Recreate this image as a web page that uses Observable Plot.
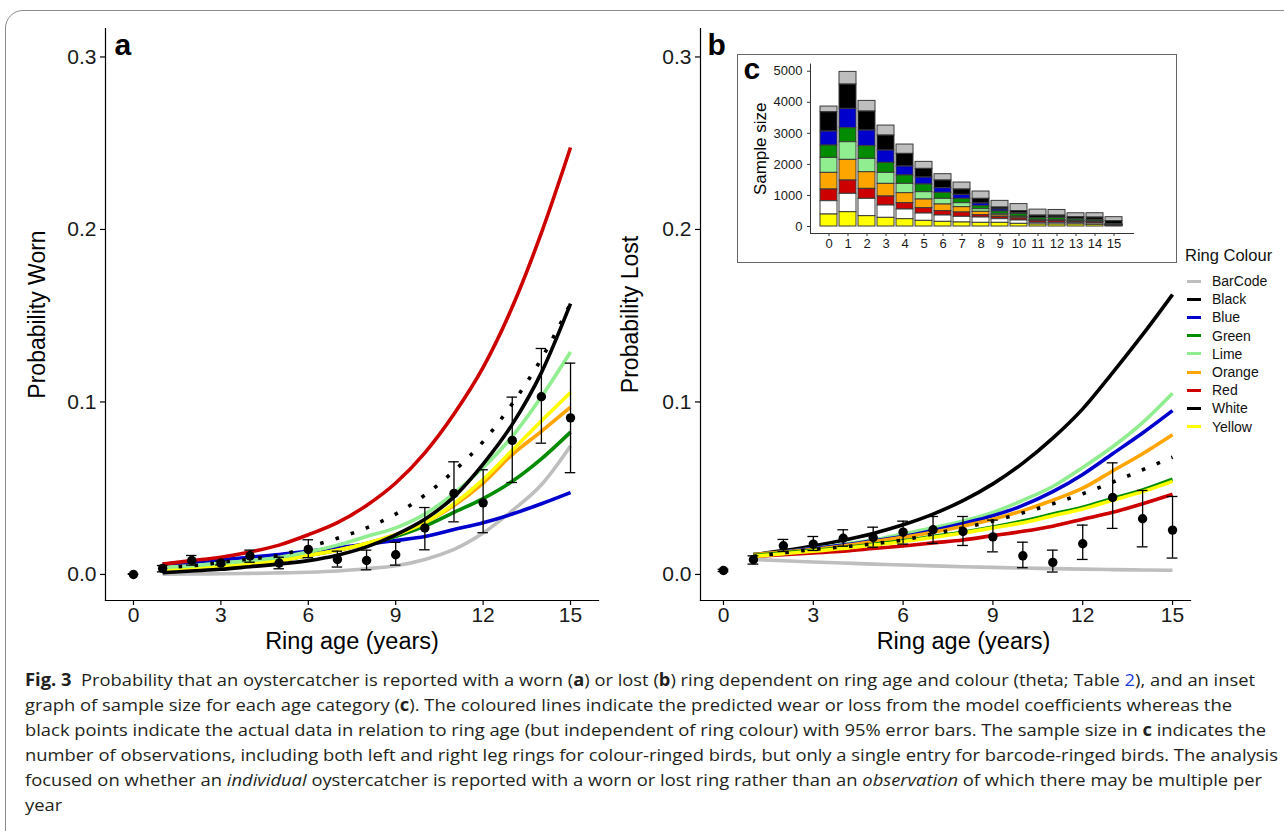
<!DOCTYPE html>
<html><head><meta charset="utf-8">
<script src="https://cdn.jsdelivr.net/npm/d3@7"></script>
<script src="https://cdn.jsdelivr.net/npm/@observablehq/plot@0.6"></script>
<style>
html,body{margin:0;padding:0;background:#fff;}
body{width:1284px;height:831px;position:relative;overflow:hidden;font-family:"Liberation Sans",Arial,sans-serif;}
#card{position:absolute;left:5px;top:10px;width:1400px;height:838px;border:1.5px solid #8a8a8a;border-radius:18px;box-sizing:border-box;}
.panel{position:absolute;}
#pa{left:0;top:0;width:620px;height:660px;}
#pb{left:600px;top:0;width:600px;height:660px;}
#pc{left:738px;top:55px;width:438px;height:207px;}
#pc svg{outline:1px solid #666;}
#legend{position:absolute;left:1185px;top:245px;font-family:"Liberation Sans",Arial,sans-serif;color:#111;}
#legend .title{font-size:16.5px;line-height:20px;height:20px;margin-bottom:7px;}
#legend .item{height:18.2px;line-height:18.2px;font-size:14px;position:relative;}
#legend .sw{position:absolute;left:2px;top:7.6px;width:14px;height:3px;}
#legend .lab{position:absolute;left:27px;top:0;white-space:nowrap;}
#caption{position:absolute;left:25px;top:667px;font-family:"Open Sans",sans-serif;font-size:17px;line-height:25px;color:#231f20;}
#caption .ln{display:block;height:25px;}
#caption .ln span.t{display:inline-block;white-space:nowrap;transform-origin:0 50%;}
#caption a{color:#1a3fd8;text-decoration:none;}
</style></head>
<body>
<div id="card"></div>
<div id="pa" class="panel"></div>
<div id="pb" class="panel"></div>
<div id="pc" class="panel"></div>
<div id="legend"></div>
<div id="caption"></div>
<script>
// ---------- DATA ----------
const colours = ["BarCode","Black","Blue","Green","Lime","Orange","Red","White","Yellow"];
const lineHex = ["#BEBEBE","#000000","#0000CD","#008B00","#90EE90","#FFA500","#CD0000","#000000","#FFFF00"];
const barHex  = ["#BEBEBE","#000000","#0000CD","#008B00","#90EE90","#FFA500","#CD0000","#FFFFFF","#FFFF00"];

const lineAges = [1,2,3,4,5,6,7,8,9,10,11,12,13,14,15];
// Panel a: predicted probability worn
const wornBarCode = [0.0002,0.0003,0.0004,0.0006,0.0009,0.0013,0.002,0.0033,0.005,0.0087,0.0145,0.024,0.037,0.052,0.0745];
const wornBlack   = [0.001,0.002,0.003,0.0045,0.006,0.008,0.0112,0.016,0.023,0.032,0.045,0.064,0.087,0.117,0.157];
const wornBlue    = [0.006,0.007,0.0085,0.010,0.0115,0.0135,0.0155,0.0175,0.0197,0.022,0.026,0.030,0.035,0.041,0.0475];
const wornGreen   = [0.003,0.004,0.005,0.0065,0.008,0.011,0.014,0.018,0.022,0.028,0.036,0.044,0.054,0.067,0.0825];
const wornLime    = [0.004,0.005,0.0065,0.008,0.010,0.013,0.017,0.022,0.027,0.035,0.047,0.062,0.080,0.103,0.129];
const wornOrange  = [0.003,0.004,0.005,0.0065,0.008,0.011,0.014,0.018,0.023,0.030,0.040,0.053,0.0695,0.083,0.097];
const wornRed     = [0.006,0.008,0.010,0.013,0.017,0.023,0.030,0.040,0.053,0.0705,0.093,0.120,0.155,0.198,0.2475];
const wornWhite   = [0.004,0.005,0.007,0.009,0.011,0.016,0.021,0.027,0.035,0.046,0.060,0.077,0.099,0.125,0.157];
const wornYellow  = [0.003,0.004,0.005,0.0065,0.008,0.011,0.014,0.018,0.023,0.030,0.041,0.055,0.072,0.089,0.1055];
// Panel b: predicted probability lost
const lostBarCode = [0.0087,0.0079,0.0072,0.0066,0.006,0.0055,0.005,0.0045,0.0041,0.0037,0.0034,0.0031,0.0028,0.0026,0.0024];
const lostBlack   = [0.0115,0.0138,0.0165,0.0198,0.0238,0.0288,0.035,0.0428,0.0525,0.0645,0.079,0.096,0.117,0.139,0.1623];
const lostBlue    = [0.0115,0.013,0.015,0.017,0.0195,0.022,0.0255,0.0295,0.034,0.040,0.048,0.058,0.070,0.082,0.095];
const lostGreen   = [0.011,0.0125,0.014,0.0155,0.0175,0.0195,0.022,0.0245,0.0275,0.031,0.035,0.039,0.044,0.049,0.0552];
const lostLime    = [0.0115,0.013,0.015,0.0175,0.020,0.0235,0.027,0.031,0.036,0.043,0.051,0.062,0.074,0.088,0.105];
const lostOrange  = [0.0115,0.013,0.0145,0.0165,0.019,0.0215,0.0245,0.028,0.032,0.037,0.043,0.050,0.060,0.070,0.081];
const lostRed     = [0.0105,0.0115,0.0125,0.0135,0.015,0.0165,0.0183,0.020,0.0225,0.025,0.028,0.032,0.036,0.041,0.0465];
const lostWhite   = [0.0105,0.0125,0.0145,0.016,0.0178,0.020,0.0235,0.027,0.031,0.0357,0.041,0.0468,0.0535,0.0607,0.068];
const lostYellow  = [0.0105,0.012,0.0135,0.015,0.017,0.019,0.0215,0.024,0.027,0.030,0.034,0.038,0.043,0.048,0.054];

// Observed points with 95% error bars
const pointAges = [0,1,2,3,4,5,6,7,8,9,10,11,12,13,14,15];
const wornMean = [0,0.0035,0.0081,0.0066,0.0108,0.0066,0.0145,0.0087,0.0081,0.0114,0.0269,0.047,0.0415,0.0777,0.103,0.0908];
const wornLow  = [0,0.0015,0.0054,0.0055,0.0071,0.0033,0.0097,0.0043,0.0027,0.0054,0.0143,0.0305,0.0242,0.0533,0.0761,0.059];
const wornHigh = [0.0004,0.0052,0.011,0.0077,0.0141,0.010,0.0201,0.0135,0.0141,0.0186,0.0388,0.0653,0.0607,0.1028,0.131,0.1225];
const lostMean = [0.0023,0.0085,0.0166,0.0176,0.021,0.0214,0.0245,0.0259,0.0249,0.0218,0.0108,0.007,0.0178,0.0446,0.0323,0.0257];
const lostLow  = [0.0017,0.006,0.0133,0.0139,0.0164,0.0158,0.0176,0.018,0.0168,0.0131,0.0039,0.0014,0.0087,0.0267,0.016,0.0095];
const lostHigh = [0.003,0.0108,0.0203,0.022,0.0259,0.0274,0.0309,0.0336,0.0336,0.0315,0.0187,0.0141,0.0286,0.0647,0.0487,0.0452];

// Inset c: sample size by ring age and colour
const sampleAges = [0,1,2,3,4,5,6,7,8,9,10,11,12,13,14,15];
const nBarCode = [183,408,343,322,301,226,204,225,236,215,225,193,182,128,140,130];
const nBlack   = [622,783,612,483,408,279,247,172,150,64,64,75,64,64,75,96];
const nBlue    = [451,623,504,397,289,225,150,128,86,64,30,10,10,10,10,5];
const nGreen   = [397,450,408,322,269,247,193,140,97,86,86,64,75,54,43,20];
const nLime    = [483,569,429,354,300,236,183,129,86,43,20,10,10,10,10,5];
const nOrange  = [536,665,537,407,322,279,214,171,107,54,40,20,20,10,10,5];
const nRed     = [376,429,321,290,204,172,140,140,75,64,64,54,54,43,43,10];
const nWhite   = [429,591,558,397,311,236,204,182,172,118,107,54,54,43,43,10];
const nYellow  = [386,461,333,279,236,182,150,129,118,118,86,64,64,64,54,20];
const stackOrder = ["Yellow","White","Red","Orange","Lime","Green","Blue","Black","BarCode"];

const yTicks = [0,0.1,0.2,0.3];
const xTicks = [0,3,6,9,12,15];
const nTicks = [0,1000,2000,3000,4000,5000];

// ---------- BUILD ----------
const wornSeries = {BarCode:wornBarCode,Black:wornBlack,Blue:wornBlue,Green:wornGreen,Lime:wornLime,Orange:wornOrange,Red:wornRed,White:wornWhite,Yellow:wornYellow};
const lostSeries = {BarCode:lostBarCode,Black:lostBlack,Blue:lostBlue,Green:lostGreen,Lime:lostLime,Orange:lostOrange,Red:lostRed,White:lostWhite,Yellow:lostYellow};
const nSeries = {BarCode:nBarCode,Black:nBlack,Blue:nBlue,Green:nGreen,Lime:nLime,Orange:nOrange,Red:nRed,White:nWhite,Yellow:nYellow};
const hexOf = c => lineHex[colours.indexOf(c)];

function lineMarks(series, order) {
  return order.map(c => Plot.line(lineAges.map((a,i)=>({age:a, p:series[c][i], colour:c})), {
    x:"age", y:"p", stroke: hexOf(c), strokeWidth: 3.6, curve:"monotone-x",
    strokeDasharray: c === "White" ? "3.6 12.4" : null, strokeLinecap:"butt"
  }));
}
function pointMarks(mean, lo, hi) {
  const pts = pointAges.map((a,i)=>({age:a, m:mean[i], lo:lo[i], hi:hi[i]}));
  return [
    Plot.ruleX(pts, {x:"age", y1:"lo", y2:"hi", stroke:"#000", strokeWidth:1.3}),
    Plot.ruleY(pts, {y:"lo", x1:d=>d.age-0.18, x2:d=>d.age+0.18, stroke:"#000", strokeWidth:1.3}),
    Plot.ruleY(pts, {y:"hi", x1:d=>d.age-0.18, x2:d=>d.age+0.18, stroke:"#000", strokeWidth:1.3}),
    Plot.dot(pts, {x:"age", y:"m", r:4.7, fill:"#000", stroke:null})
  ];
}
const baseStyle = {fontFamily:'"Liberation Sans", Arial, sans-serif', fontSize:"21px", color:"#1a1a1a", background:"transparent", overflow:"visible", maxWidth:"none"};

function panel({series, order, mean, lo, hi, width, marginLeft, marginRight, xDomain, ylab, letter, letterDx, ylabDx, xlabDx}) {
  return Plot.plot({
    width, height:660, marginLeft, marginRight, marginTop:28, marginBottom:60,
    x:{domain:xDomain}, y:{domain:[-0.0151,0.3165]},
    style: baseStyle,
    marks:[
      ...lineMarks(series, order),
      ...pointMarks(mean, lo, hi),
      Plot.frame({anchor:"left", stroke:"#000", strokeWidth:1.2}),
      Plot.frame({anchor:"bottom", stroke:"#000", strokeWidth:1.2}),
      Plot.axisX({ticks:xTicks, tickSize:5, tickPadding:2, label:null, stroke:"#000", strokeWidth:1.2}),
      Plot.axisY({ticks:yTicks, tickSize:5, tickPadding:4, tickFormat:d=>d.toFixed(1), label:null, stroke:"#000", strokeWidth:1.2}),
      Plot.text([ylab], {frameAnchor:"left", dx:ylabDx, rotate:-90, textAnchor:"middle", lineAnchor:"middle", fontSize:23, fill:"#000"}),
      Plot.text(["Ring age (years)"], {frameAnchor:"bottom", dx:xlabDx, dy:41, textAnchor:"middle", lineAnchor:"middle", fontSize:23.5, fill:"#000"}),
      Plot.text([letter], {frameAnchor:"top-left", dx:letterDx, dy:17, textAnchor:"start", lineAnchor:"middle", fontSize:30, fontWeight:"bold", fill:"#000"})
    ]
  });
}

document.getElementById("pa").append(panel({
  series:wornSeries, order:["BarCode","Blue","Green","Orange","Yellow","Lime","Red","White","Black"],
  mean:wornMean, lo:wornLow, hi:wornHigh, width:620, marginLeft:105, marginRight:22,
  xDomain:[-0.96,15.96], ylab:"Probability Worn", letter:"a", letterDx:9, ylabDx:-68, xlabDx:0
}));
document.getElementById("pb").append(panel({
  series:lostSeries, order:["BarCode","Black","Lime","Blue","Orange","Red","Green","Yellow","White"],
  mean:lostMean, lo:lostLow, hi:lostHigh, width:600, marginLeft:100, marginRight:10,
  xDomain:[-0.768,15.60], ylab:"Probability Lost", letter:"b", letterDx:7, ylabDx:-70, xlabDx:18
}));

// Inset c
const tidyC = colours.flatMap(c => sampleAges.map((a,i)=>({age:a, n:nSeries[c][i], colour:c})));
document.getElementById("pc").append(Plot.plot({
  width:438, height:207, marginLeft:72, marginRight:43, marginTop:8.6, marginBottom:29,
  x:{type:"band", domain:sampleAges, paddingInner:0.1, paddingOuter:0.15},
  y:{domain:[-225,5230]},
  color:{type:"ordinal", domain:colours, range:barHex},
  style:{...baseStyle, fontSize:"13px", background:"#fff"},
  marks:[
    Plot.barY(tidyC, {x:"age", y:"n", fill:"colour", stroke:"#3a3a3a", strokeWidth:1, order:stackOrder}),
    Plot.frame({anchor:"left", stroke:"#333", strokeWidth:1}),
    Plot.frame({anchor:"bottom", stroke:"#333", strokeWidth:1}),
    Plot.axisX({tickSize:3, tickPadding:2, label:null, stroke:"#333"}),
    Plot.axisY({ticks:nTicks, tickSize:3, tickPadding:5, tickFormat:d=>String(d), label:null, stroke:"#333"}),
    Plot.text(["Sample size"], {frameAnchor:"left", dx:-50, rotate:-90, textAnchor:"middle", lineAnchor:"middle", fontSize:17, fill:"#000"}),
    Plot.text(["c"], {frameAnchor:"top-left", dx:-67, dy:5, textAnchor:"start", lineAnchor:"middle", fontSize:30, fontWeight:"bold", fill:"#000"})
  ]
}));

// Legend
const lg = document.getElementById("legend");
lg.innerHTML = '<div class="title">Ring Colour</div>' + colours.map((c,i)=>
  `<div class="item"><span class="sw" style="background:${lineHex[i]}"></span><span class="lab">${c}</span></div>`).join("");

// Caption
const captionLines = [
  '<b>Fig. 3</b>&nbsp; Probability that an oystercatcher is reported with a worn (<b>a</b>) or lost (<b>b</b>) ring dependent on ring age and colour (theta; Table <a>2</a>), and an inset',
  'graph of sample size for each age category (<b>c</b>). The coloured lines indicate the predicted wear or loss from the model coefficients whereas the',
  'black points indicate the actual data in relation to ring age (but independent of ring colour) with 95% error bars. The sample size in <b>c</b> indicates the',
  'number of observations, including both left and right leg rings for colour-ringed birds, but only a single entry for barcode-ringed birds. The analysis',
  'focused on whether an <i>individual</i> oystercatcher is reported with a worn or lost ring rather than an <i>observation</i> of which there may be multiple per',
  'year'
];
const captionWidths = [1230, 1207, 1241, 1253, 1237, null];
const cap = document.getElementById("caption");
cap.innerHTML = captionLines.map(l=>`<div class="ln"><span class="t">${l}</span></div>`).join("");
function fitCaption(){
  const spans = [...cap.querySelectorAll("span.t")];
  let sum=0, cnt=0;
  spans.forEach((s,i)=>{ if(captionWidths[i]){ const w=s.getBoundingClientRect().width; const k=captionWidths[i]/w; s.style.transform=`scaleX(${k})`; sum+=k; cnt++; } });
  spans.forEach((s,i)=>{ if(!captionWidths[i]) s.style.transform=`scaleX(${sum/cnt})`; });
}
fitCaption();
if (document.fonts && document.fonts.ready) document.fonts.ready.then(()=>{ cap.querySelectorAll("span.t").forEach(s=>s.style.transform=""); fitCaption(); });
</script>
</body></html>
